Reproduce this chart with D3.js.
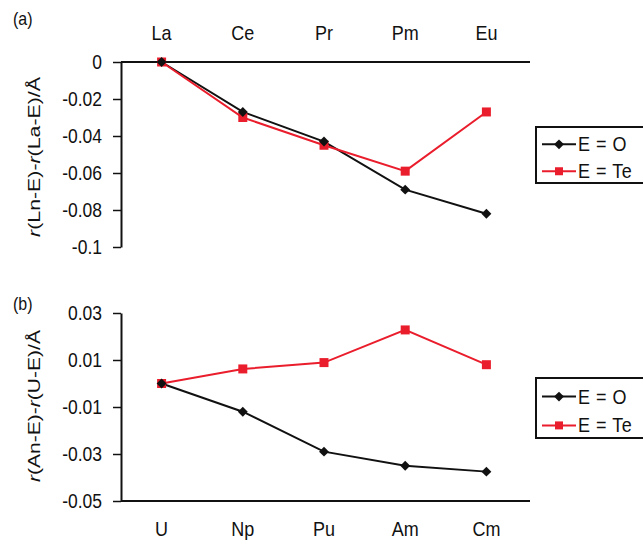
<!DOCTYPE html>
<html>
<head>
<meta charset="utf-8">
<script src="https://cdn.jsdelivr.net/npm/d3@7"></script>
<style>
  body { margin: 0; background: #fff; }
  text { font-family: "Liberation Sans", Arial, sans-serif; fill: #111; }
</style>
</head>
<body>
<svg id="chart" width="643" height="540"></svg>
<script>
// data
var lnNames = ["La", "Ce", "Pr", "Pm", "Eu"];
var lnOxide = [0, -0.027, -0.043, -0.069, -0.082];
var lnTelluride = [0, -0.030, -0.045, -0.059, -0.027];
var lnTicks = [0, -0.02, -0.04, -0.06, -0.08, -0.1];

var anNames = ["U", "Np", "Pu", "Am", "Cm"];
var anOxide = [0, -0.012, -0.029, -0.035, -0.0375];
var anTelluride = [0, 0.0062, 0.0089, 0.0228, 0.008];
var anTicks = [0.03, 0.01, -0.01, -0.03, -0.05];

var seriesNames = ["E = O", "E = Te"];
var colors = ["#111111", "#ea1d2c"];

// the scanned figure is a bit taller than wide, stretch text to match
var STRETCH = 1.15;

var svg = d3.select("#chart");

function tallText(sel, x, y){
	return sel.attr("transform", "translate(" + x + "," + y + ") scale(1," + STRETCH + ")");
}

// one panel drawing
function drawPanel(opt){
	var x = d3.scalePoint()
		.domain(opt.cats)
		.range([opt.left, opt.right])
		.padding(0.5);
	var y = d3.scaleLinear()
		.domain(opt.yDomain)
		.range([opt.top, opt.bottom]);

	var g = svg.append("g");

	// y axis
	var yAxis = d3.axisLeft(y)
		.tickValues(opt.ticks)
		.tickSizeInner(8)
		.tickSizeOuter(0)
		.tickPadding(11)
		.tickFormat(function(d){ return String(+d.toFixed(3)); });
	var ya = g.append("g")
		.attr("transform", "translate(" + opt.left + ",0)")
		.call(yAxis);
	ya.select(".domain").attr("stroke", "#111").attr("stroke-width", 2);
	ya.selectAll(".tick line").attr("stroke", "#111").attr("stroke-width", 1.5);
	ya.selectAll(".tick text")
		.attr("font-size", "17.5px")
		.attr("font-family", "Liberation Sans, Arial, sans-serif")
		.attr("fill", "#111")
		.attr("dy", "0.3em")
		.attr("transform", "scale(1," + STRETCH + ")");

	// category axis (top or bottom)
	var axisY = opt.catAxisAt === "top" ? opt.top : opt.bottom;
	g.append("line")
		.attr("x1", opt.left).attr("x2", opt.right + 3)
		.attr("y1", axisY).attr("y2", axisY)
		.attr("stroke", "#111").attr("stroke-width", 2);
	g.selectAll(".cat")
		.data(opt.cats)
		.enter().append("text")
		.attr("class", "cat")
		.attr("transform", function(d){
			return "translate(" + x(d) + "," + opt.catLabelY + ") scale(1," + STRETCH + ")";
		})
		.attr("text-anchor", "middle")
		.attr("font-size", "18px")
		.text(function(d){ return d; });

	// axis title, stretched along its length
	var title = g.append("text")
		.attr("text-anchor", "middle")
		.attr("font-size", "17px");
	opt.titleParts.forEach(function(p){
		title.append("tspan")
			.attr("font-style", p.italic ? "italic" : "normal")
			.text(p.t);
	});
	var sx = opt.titleLen / title.node().getComputedTextLength();
	title.attr("transform", "translate(" + opt.titleX + "," + opt.titleY + ") rotate(-90) scale(" + sx + ",1)");

	// panel label
	tallText(g.append("text"), 13, opt.labelY)
		.attr("font-size", "16px")
		.text(opt.label);

	// lines + markers
	var line = d3.line()
		.x(function(d, i){ return x(opt.cats[i]); })
		.y(function(d){ return y(d); });

	opt.series.forEach(function(s, k){
		g.append("path")
			.attr("d", line(s))
			.attr("fill", "none")
			.attr("stroke", colors[k])
			.attr("stroke-width", 2);
	});
	[1, 0].forEach(function(k){
		var s = opt.series[k];
		g.selectAll(".m" + k)
			.data(s)
			.enter().append("path")
			.attr("class", "m" + k)
			.attr("transform", function(d, i){
				return "translate(" + x(opt.cats[i]) + "," + y(d) + ")" + (k === 0 ? " rotate(45)" : "");
			})
			.attr("d", k === 0 ? "M-3.5,-3.5H3.5V3.5H-3.5Z" : "M-4.5,-4.5H4.5V4.5H-4.5Z")
			.attr("fill", colors[k]);
	});

	// legend
	var lg = g.append("g").attr("transform", "translate(" + opt.legX + "," + opt.legY + ")");
	lg.append("rect")
		.attr("x", 0).attr("y", 0)
		.attr("width", 120).attr("height", opt.legH)
		.attr("fill", "#fff")
		.attr("stroke", "#111").attr("stroke-width", 2);
	seriesNames.forEach(function(n, k){
		var ly = opt.legH * (k === 0 ? 0.31 : 0.79);
		lg.append("line")
			.attr("x1", 6).attr("x2", 40)
			.attr("y1", ly).attr("y2", ly)
			.attr("stroke", colors[k]).attr("stroke-width", 2);
		lg.append("path")
			.attr("transform", "translate(23," + ly + ")" + (k === 0 ? " rotate(45)" : ""))
			.attr("d", k === 0 ? "M-3.5,-3.5H3.5V3.5H-3.5Z" : "M-4,-4H4V4H-4Z")
			.attr("fill", colors[k]);
		tallText(lg.append("text"), 42, ly + 7)
			.attr("font-size", "18px")
			.attr("letter-spacing", "0.5px")
			.text(n);
	});
}

drawPanel({
	cats: lnNames,
	series: [lnOxide, lnTelluride],
	ticks: lnTicks,
	yDomain: [0, -0.1],
	left: 121, right: 527, top: 62, bottom: 247,
	catAxisAt: "top", catLabelY: 40,
	titleX: 40, titleY: 157, titleLen: 160,
	titleParts: [{t: "r", italic: true}, {t: "(Ln-E)-"}, {t: "r", italic: true}, {t: "(La-E)/Å"}],
	label: "(a)", labelY: 25,
	legX: 536, legY: 127, legH: 56
});

drawPanel({
	cats: anNames,
	series: [anOxide, anTelluride],
	ticks: anTicks,
	yDomain: [0.03, -0.05],
	left: 121, right: 527, top: 313, bottom: 501,
	catAxisAt: "bottom", catLabelY: 536,
	titleX: 40, titleY: 406, titleLen: 152,
	titleParts: [{t: "r", italic: true}, {t: "(An-E)-"}, {t: "r", italic: true}, {t: "(U-E)/Å"}],
	label: "(b)", labelY: 310,
	legX: 536, legY: 378, legH: 60
});
</script>
</body>
</html>
